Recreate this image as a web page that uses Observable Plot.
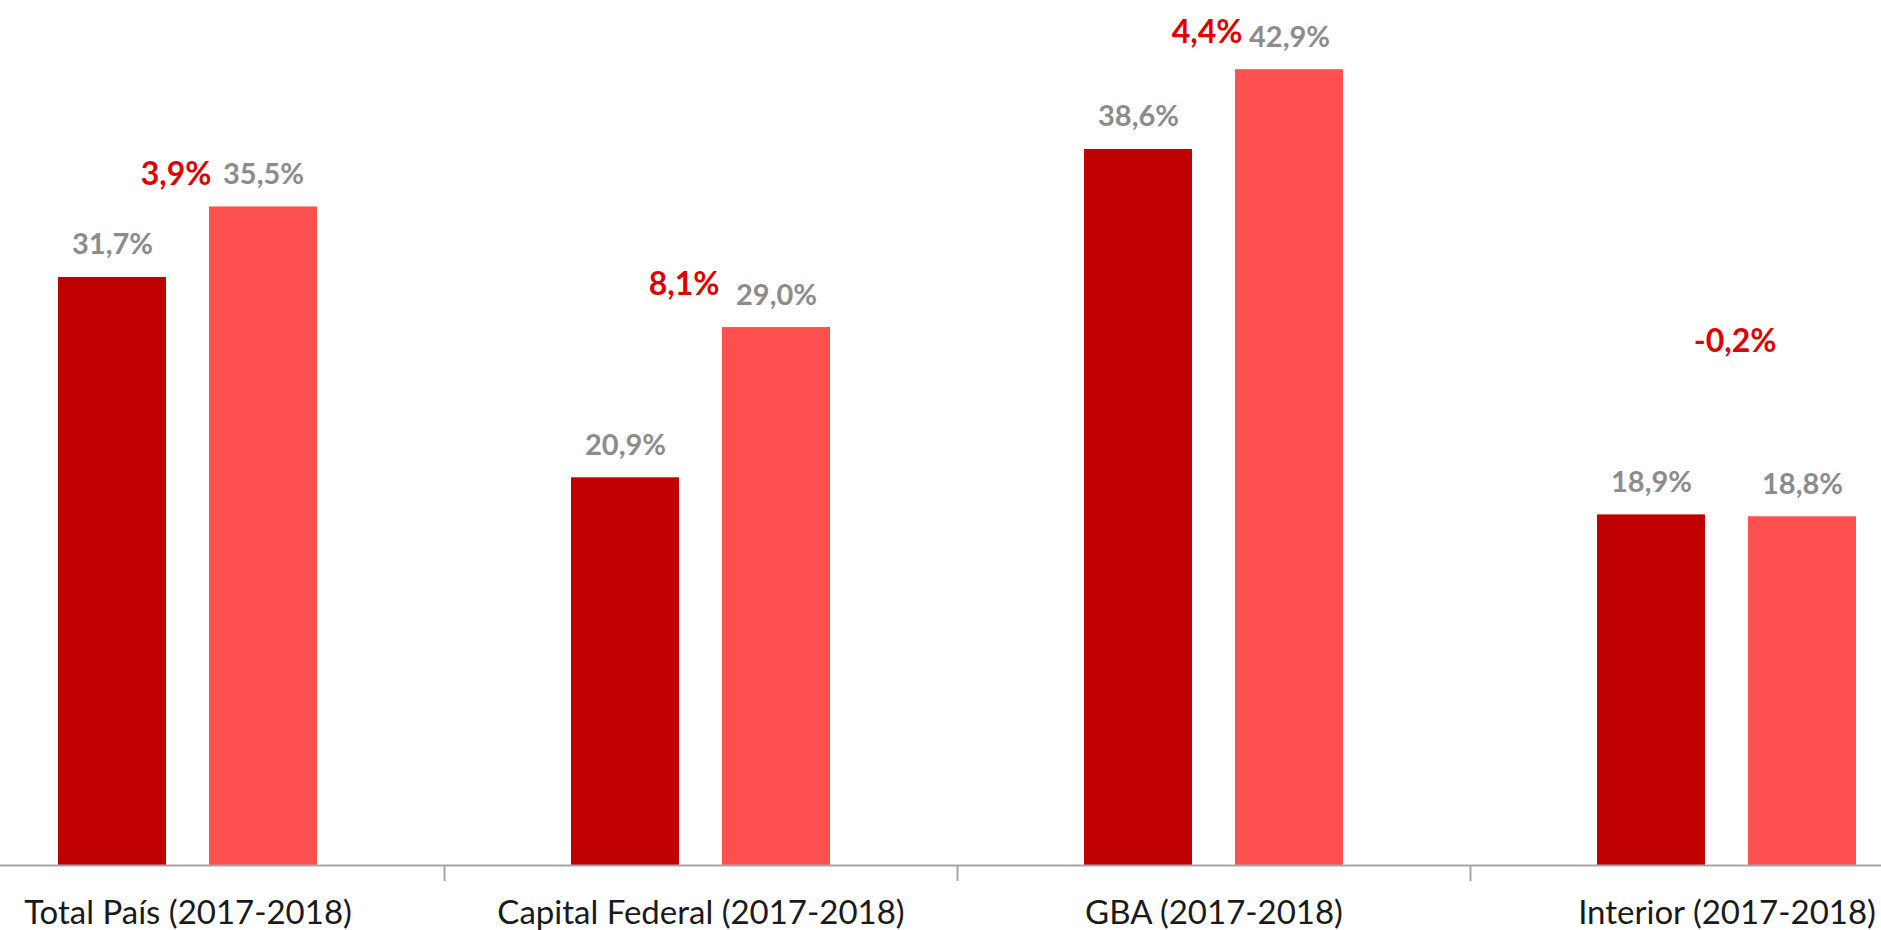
<!DOCTYPE html>
<html>
<head>
<meta charset="utf-8">
<script src="https://cdn.jsdelivr.net/npm/d3@7"></script>
<script src="https://cdn.jsdelivr.net/npm/@observablehq/plot@0.6"></script>
<style>
  html, body { margin: 0; padding: 0; background: #ffffff; }
  #chart { width: 1881px; height: 930px; overflow: hidden; }
</style>
</head>
<body>
<div id="chart"></div>
<script>
// ---- data ----
const categories = ["Total País (2017-2018)", "Capital Federal (2017-2018)", "GBA (2017-2018)", "Interior (2017-2018)"];
const years = ["2017", "2018"];
const values2017 = [31.7, 20.9, 38.6, 18.9];
const values2018 = [35.5, 29.0, 42.9, 18.8];
const changes = [3.9, 8.1, 4.4, -0.2];

// ---- derived tables ----
const fmt = v => v.toFixed(1).replace(".", ",") + "%";
const rows = categories.flatMap((c, i) => [
  {category: c, year: years[0], value: values2017[i]},
  {category: c, year: years[1], value: values2018[i]}
]);
const changeRows = categories.map((c, i) => ({category: c, year: years[1], value: values2018[i], change: changes[i]}));

// ---- layout / style ----
const W = 1881, H = 930;
const fxRange = [-69, 1983];
const fxStep = (fxRange[1] - fxRange[0]) / categories.length;
const padIn = 0.285, padOut = 0.841;
const barWidth = fxStep * (1 - padIn) / (years.length - padIn + 2 * padOut);
const changeDx = [2, -3, 7, 28];
const changeDy = [-22, -33, -27, -165];
const colors = ["#C00000", "#FF5050"];
const axisGray = "#a6a6a6";

const chart = Plot.plot({
  width: W,
  height: H,
  marginTop: 0,
  marginBottom: 65,
  marginLeft: 0,
  marginRight: 0,
  style: {fontFamily: "Lato, 'DejaVu Sans', sans-serif", background: "#ffffff", overflow: "hidden"},
  fx: {domain: categories, range: fxRange, padding: 0, round: false, label: null, axis: null},
  x: {domain: years, paddingInner: padIn, paddingOuter: padOut, round: false, axis: null},
  y: {domain: [0, 46.63], axis: null},
  color: {domain: years, range: colors},
  marks: [
    Plot.barY(rows, {fx: "category", x: "year", y: "value", fill: "year"}),
    Plot.ruleY([0], {stroke: axisGray, strokeWidth: 2}),
    Plot.ruleX(categories.slice(1), {fx: d => d, x: null, y1: 0, y2: 0, insetBottom: -16, dx: -fxStep / 2, stroke: axisGray, strokeWidth: 2}),
    Plot.text(rows, {fx: "category", x: "year", y: "value", text: d => fmt(d.value), lineAnchor: "bottom", dy: -23, fill: "#8c8c8c", fontSize: 29, fontWeight: "bold"}),
    ...categories.map((c, i) => Plot.text([changeRows[i]], {
      fx: "category", x: "year", y: "value", text: d => fmt(d.change),
      textAnchor: "end", lineAnchor: "bottom",
      dx: -barWidth / 2 + changeDx[i], dy: changeDy[i],
      fill: "#e00000", fontSize: 32, fontWeight: "bold"
    })),
    Plot.axisFx({anchor: "bottom", tickSize: 0, tickPadding: 35, fontSize: 33, fill: "#1a1a1a", label: null})
  ]
});
document.getElementById("chart").appendChild(chart);
</script>
</body>
</html>
